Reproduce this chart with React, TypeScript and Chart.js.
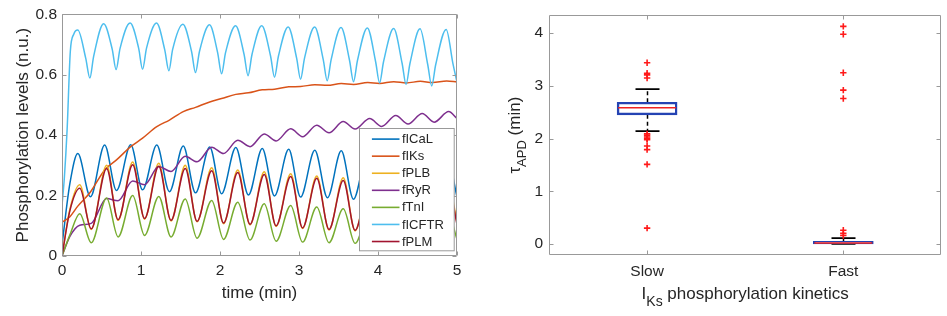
import React, { useEffect, useRef } from 'react';
import { Chart, registerables } from 'chart.js';

Chart.register(...registerables);

const FONT = "'Liberation Sans', Arial, Helvetica, sans-serif";
const TEXT = '#262626';
const FRAME = '#999999';

// ---------- Left panel: phosphorylation time courses ----------
const TIME_A = [0, 0.1, 0.2, 0.36, 0.54, 0.69, 0.87, 1.02, 1.2, 1.36, 1.535, 1.69, 1.87, 2.02, 2.2, 2.36, 2.535, 2.69, 2.87, 3.02, 3.2, 3.36, 3.535, 3.69, 3.87, 4.02, 4.2, 4.36, 4.535, 4.69, 4.87, 5.0];
const TIME_B = [0, 0.1, 0.225, 0.37, 0.565, 0.71, 0.895, 1.045, 1.225, 1.38, 1.56, 1.71, 1.895, 2.045, 2.225, 2.38, 2.56, 2.71, 2.895, 3.045, 3.225, 3.38, 3.56, 3.71, 3.895, 4.045, 4.225, 4.38, 4.56, 4.71, 4.895, 5.0];
const TIME_CFTR = [0, 0.03, 0.065, 0.105, 0.15, 0.2,
  0.30, 0.353, 0.40, 0.527,
  0.635, 0.685, 0.735, 0.862,
  0.97, 1.02, 1.07, 1.197,
  1.30, 1.353, 1.40, 1.53,
  1.64, 1.69, 1.74, 1.867,
  1.97, 2.02, 2.07, 2.197,
  2.305, 2.355, 2.405, 2.528,
  2.64, 2.69, 2.74, 2.863,
  2.97, 3.02, 3.07, 3.198,
  3.307, 3.357, 3.407, 3.532,
  3.64, 3.69, 3.74, 3.865,
  3.97, 4.02, 4.07, 4.198,
  4.305, 4.355, 4.405, 4.532,
  4.63, 4.68, 4.73, 4.863,
  4.95, 5.0];

const F_ICAL = [0.036, 0.24, 0.339, 0.196, 0.367, 0.217, 0.368, 0.219, 0.367, 0.213, 0.364, 0.209, 0.361, 0.206, 0.359, 0.202, 0.356, 0.199, 0.353, 0.195, 0.35, 0.193, 0.348, 0.188, 0.345, 0.186, 0.343, 0.183, 0.34, 0.18, 0.338, 0.195];
const F_IKS = [0.112, 0.13, 0.165, 0.212, 0.285, 0.318, 0.362, 0.39, 0.428, 0.45, 0.478, 0.492, 0.51, 0.521, 0.535, 0.54, 0.55, 0.552, 0.56, 0.561, 0.567, 0.565, 0.571, 0.568, 0.574, 0.571, 0.577, 0.573, 0.578, 0.574, 0.579, 0.576];
const F_PLB = [0, 0.155, 0.236, 0.088, 0.3, 0.118, 0.311, 0.122, 0.307, 0.116, 0.3, 0.113, 0.292, 0.107, 0.285, 0.103, 0.279, 0.098, 0.272, 0.091, 0.265, 0.086, 0.259, 0.083, 0.253, 0.08, 0.247, 0.077, 0.241, 0.074, 0.235, 0.112];
const F_RYR = [0, 0.065, 0.102, 0.108, 0.19, 0.183, 0.248, 0.236, 0.296, 0.28, 0.33, 0.312, 0.36, 0.339, 0.383, 0.362, 0.404, 0.381, 0.421, 0.395, 0.433, 0.408, 0.445, 0.42, 0.455, 0.429, 0.465, 0.437, 0.472, 0.443, 0.478, 0.455];
const F_TNI = [0, 0.07, 0.14, 0.044, 0.192, 0.063, 0.2, 0.068, 0.197, 0.063, 0.189, 0.059, 0.184, 0.055, 0.178, 0.053, 0.173, 0.049, 0.167, 0.046, 0.162, 0.044, 0.156, 0.042, 0.151, 0.04, 0.146, 0.038, 0.141, 0.036, 0.136, 0.055];
const F_ICFTR = [0.167, 0.26, 0.42, 0.676, 0.735, 0.748,
  0.655, 0.589, 0.66, 0.769,
  0.685, 0.617, 0.687, 0.771,
  0.688, 0.618, 0.688, 0.771,
  0.683, 0.613, 0.683, 0.767,
  0.677, 0.607, 0.677, 0.765,
  0.673, 0.603, 0.673, 0.762,
  0.667, 0.597, 0.667, 0.762,
  0.662, 0.592, 0.662, 0.758,
  0.655, 0.585, 0.655, 0.758,
  0.65, 0.58, 0.65, 0.756,
  0.647, 0.577, 0.647, 0.755,
  0.643, 0.573, 0.643, 0.753,
  0.638, 0.568, 0.638, 0.752,
  0.633, 0.563, 0.633, 0.75,
  0.635, 0.575];
const F_PLM = [0, 0.15, 0.224, 0.09, 0.29, 0.12, 0.302, 0.124, 0.297, 0.118, 0.29, 0.115, 0.282, 0.109, 0.276, 0.105, 0.27, 0.1, 0.263, 0.093, 0.257, 0.088, 0.25, 0.085, 0.244, 0.082, 0.238, 0.079, 0.232, 0.076, 0.226, 0.105];

const SERIES_LABELS = ['fICaL', 'fIKs', 'fPLB', 'fRyR', 'fTnI', 'fICFTR', 'fPLM'];
const SERIES_COLORS = ['#0072BD', '#D95319', '#EDB120', '#7E2F8E', '#77AC30', '#4DBEEE', '#A2142F'];
const SERIES_TIMES = [TIME_A, TIME_A, TIME_B, TIME_B, TIME_B, TIME_CFTR, TIME_B];
const SERIES_VALUES = [F_ICAL, F_IKS, F_PLB, F_RYR, F_TNI, F_ICFTR, F_PLM];

const LEFT_X_TITLE = 'time (min)';
const LEFT_Y_TITLE = 'Phosphorylation levels (n.u.)';

// ---------- Right panel: box plot ----------
const GROUPS = ['Slow', 'Fast'];
const Q1 = [2.45, 0.0];
const Q3 = [2.69, 0.05];
const MEDIAN = [2.586, 0.02];
const WHISKER_LOW = [2.14, 0.0];
const WHISKER_HIGH = [2.94, 0.11];
const OUTLIERS_SLOW = [3.44, 3.24, 3.21, 3.15, 2.09, 2.06, 2.03, 2.0, 1.98, 1.86, 1.79, 1.51, 0.30];
const OUTLIERS_FAST = [4.13, 3.98, 3.25, 2.92, 2.76, 0.26, 0.2, 0.16];

function drawFrame(chart: any) {
  const { ctx, chartArea: a, scales } = chart;
  const x = scales.x, y = scales.y;
  const L = Math.round(a.left) + 0.5, R = Math.round(a.right) - 0.5;
  const T = Math.round(a.top) + 0.5, B = Math.round(a.bottom) - 0.5;
  const tl = 4;
  ctx.save();
  ctx.strokeStyle = FRAME;
  ctx.lineWidth = 1;
  ctx.beginPath();
  ctx.rect(L, T, R - L, B - T);
  x.ticks.forEach((_: any, i: number) => {
    const px = Math.round(x.getPixelForTick(i)) + 0.5;
    ctx.moveTo(px, B); ctx.lineTo(px, B - tl);
    ctx.moveTo(px, T); ctx.lineTo(px, T + tl);
  });
  y.ticks.forEach((_: any, i: number) => {
    const py = Math.round(y.getPixelForTick(i)) + 0.5;
    ctx.moveTo(L, py); ctx.lineTo(L + tl, py);
    ctx.moveTo(R, py); ctx.lineTo(R - tl, py);
  });
  ctx.stroke();
  ctx.restore();
}

type Part = { text: string; size: number; dy: number };
function drawRich(ctx: CanvasRenderingContext2D, parts: Part[], cx: number, baseline: number) {
  let total = 0;
  parts.forEach(p => { ctx.font = `${p.size}px ${FONT}`; total += ctx.measureText(p.text).width; });
  let x = cx - total / 2;
  ctx.textAlign = 'left';
  ctx.textBaseline = 'alphabetic';
  parts.forEach(p => {
    ctx.font = `${p.size}px ${FONT}`;
    ctx.fillText(p.text, x, baseline + p.dy);
    x += ctx.measureText(p.text).width;
  });
}

const leftPlugin = {
  id: 'leftDecor',
  afterDatasetsDraw(chart: any) {
    drawFrame(chart);
    const { ctx, chartArea: a } = chart;
    // legend box (drawn over the lines, like MATLAB)
    const w = 94.7, h = 122.3;
    const lx = Math.round(a.right - 98) + 0.5, ly = Math.round(a.bottom - 128.3) + 0.5;
    ctx.save();
    ctx.fillStyle = '#ffffff';
    ctx.fillRect(lx, ly, w, h);
    ctx.strokeStyle = FRAME;
    ctx.lineWidth = 1;
    ctx.strokeRect(lx, ly, w, h);
    ctx.font = `13px ${FONT}`;
    ctx.textBaseline = 'middle';
    ctx.textAlign = 'left';
    SERIES_LABELS.forEach((label, i) => {
      const cy = ly + 10.6 + i * 17.07;
      ctx.strokeStyle = SERIES_COLORS[i];
      ctx.lineWidth = 1.6;
      ctx.beginPath();
      ctx.moveTo(lx + 12.4, cy);
      ctx.lineTo(lx + 40, cy);
      ctx.stroke();
      ctx.fillStyle = TEXT;
      ctx.fillText(label, lx + 42.4, cy + 0.5);
    });
    ctx.restore();
  },
  afterDraw(chart: any) {
    const { ctx, chartArea: a } = chart;
    ctx.save();
    ctx.fillStyle = TEXT;
    ctx.font = `17px ${FONT}`;
    ctx.textAlign = 'center';
    ctx.textBaseline = 'alphabetic';
    ctx.fillText(LEFT_X_TITLE, (a.left + a.right) / 2, 298);
    ctx.translate(28, (a.top + a.bottom) / 2);
    ctx.rotate(-Math.PI / 2);
    ctx.fillText(LEFT_Y_TITLE, 0, 0);
    ctx.restore();
  },
};

const rightPlugin = {
  id: 'rightDecor',
  beforeDatasetsDraw(chart: any) {
    const { ctx, scales } = chart;
    const x = scales.x, y = scales.y;
    ctx.save();
    ctx.strokeStyle = '#000000';
    ctx.lineWidth = 1.5;
    GROUPS.forEach((_, i) => {
      const cx = Math.round(x.getPixelForTick(i)) + 0.5;
      ctx.setLineDash([4, 3]);
      ctx.beginPath();
      ctx.moveTo(cx, y.getPixelForValue(Q3[i]));
      ctx.lineTo(cx, y.getPixelForValue(WHISKER_HIGH[i]));
      ctx.moveTo(cx, y.getPixelForValue(Q1[i]));
      ctx.lineTo(cx, y.getPixelForValue(WHISKER_LOW[i]));
      ctx.stroke();
      ctx.setLineDash([]);
      ctx.lineWidth = 1.8;
      ctx.beginPath();
      const hi = y.getPixelForValue(WHISKER_HIGH[i]);
      const lo = y.getPixelForValue(WHISKER_LOW[i]);
      ctx.moveTo(cx - 12, hi); ctx.lineTo(cx + 12, hi);
      ctx.moveTo(cx - 12, lo); ctx.lineTo(cx + 12, lo);
      ctx.stroke();
      ctx.lineWidth = 1.5;
    });
    ctx.restore();
  },
  afterDatasetsDraw(chart: any) {
    const { ctx, scales } = chart;
    const x = scales.x, y = scales.y;
    ctx.save();
    ctx.strokeStyle = '#ee2222';
    ctx.lineWidth = 1.5;
    GROUPS.forEach((_, i) => {
      const cx = x.getPixelForTick(i);
      const py = y.getPixelForValue(MEDIAN[i]);
      ctx.beginPath();
      ctx.moveTo(cx - 29, py);
      ctx.lineTo(cx + 29, py);
      ctx.stroke();
    });
    ctx.restore();
    drawFrame(chart);
  },
  afterDraw(chart: any) {
    const { ctx, chartArea: a } = chart;
    ctx.save();
    ctx.fillStyle = TEXT;
    drawRich(ctx, [
      { text: 'I', size: 17, dy: 0 },
      { text: 'Ks', size: 14, dy: 7 },
      { text: ' phosphorylation kinetics', size: 17, dy: 0 },
    ], (a.left + a.right) / 2, 298.5);
    ctx.translate(40, (a.top + a.bottom) / 2);
    ctx.rotate(-Math.PI / 2);
    drawRich(ctx, [
      { text: 'τ', size: 17, dy: 0 },
      { text: 'APD', size: 13, dy: 6 },
      { text: ' (min)', size: 17, dy: 0 },
    ], 0, 0);
    ctx.restore();
  },
};

function leftConfig(): any {
  return {
    type: 'line',
    data: {
      datasets: SERIES_LABELS.map((label, i) => ({
        label,
        data: SERIES_TIMES[i].map((t, k) => ({ x: t, y: SERIES_VALUES[i][k] })),
        borderColor: SERIES_COLORS[i],
        backgroundColor: SERIES_COLORS[i],
        borderWidth: 1.5,
        pointRadius: 0,
        fill: false,
        cubicInterpolationMode: 'monotone',
        order: SERIES_LABELS.length - i,
      })),
    },
    options: {
      responsive: false,
      animation: false,
      events: [],
      layout: { padding: { top: 12, right: 23, left: 0, bottom: 0 } },
      plugins: { legend: { display: false }, tooltip: { enabled: false }, title: { display: false } },
      scales: {
        x: {
          type: 'linear', min: 0, max: 5,
          grid: { display: false, drawTicks: false },
          border: { display: false },
          ticks: { stepSize: 1, padding: 5, maxRotation: 0, color: TEXT, font: { family: FONT, size: 15.5 } },
          afterFit: (s: any) => { s.height = 60; },
        },
        y: {
          type: 'linear', min: 0, max: 0.8,
          grid: { display: false, drawTicks: false },
          border: { display: false },
          ticks: { stepSize: 0.2, padding: 5, color: TEXT, font: { family: FONT, size: 15.5 } },
          afterFit: (s: any) => { s.width = 62; },
        },
      },
    },
    plugins: [leftPlugin],
  };
}

function rightConfig(): any {
  return {
    type: 'bar',
    data: {
      labels: GROUPS,
      datasets: [
        {
          type: 'bar',
          label: 'box',
          data: GROUPS.map((_, i) => [Q1[i], Q3[i]]),
          backgroundColor: 'rgba(0,0,0,0)',
          borderColor: '#2443b3',
          borderWidth: 1.8,
          borderSkipped: false,
          barThickness: 60,
          order: 3,
        },
        {
          type: 'line',
          label: 'Slow outliers',
          data: OUTLIERS_SLOW.map(v => ({ x: GROUPS[0], y: v })),
          showLine: false,
          pointStyle: 'cross',
          pointRadius: 3.2,
          pointBorderWidth: 1.6,
          pointBorderColor: '#ff1a1a',
          borderColor: '#ff1a1a',
          order: 1,
        },
        {
          type: 'line',
          label: 'Fast outliers',
          data: OUTLIERS_FAST.map(v => ({ x: GROUPS[1], y: v })),
          showLine: false,
          pointStyle: 'cross',
          pointRadius: 3.2,
          pointBorderWidth: 1.6,
          pointBorderColor: '#ff1a1a',
          borderColor: '#ff1a1a',
          order: 2,
        },
      ],
    },
    options: {
      responsive: false,
      animation: false,
      events: [],
      layout: { padding: { top: 11, right: 1, left: 0, bottom: 0 } },
      plugins: { legend: { display: false }, tooltip: { enabled: false }, title: { display: false } },
      scales: {
        x: {
          type: 'category', offset: true,
          grid: { display: false, drawTicks: false, offset: true },
          border: { display: false },
          ticks: { padding: 7, maxRotation: 0, color: TEXT, font: { family: FONT, size: 15.5 } },
          afterFit: (s: any) => { s.height = 61; },
        },
        y: {
          type: 'linear', min: -0.21, max: 4.34,
          grid: { display: false, drawTicks: false },
          border: { display: false },
          ticks: { stepSize: 1, includeBounds: false, padding: 6, color: TEXT, font: { family: FONT, size: 15.5 } },
          afterFit: (s: any) => { s.width = 69; },
        },
      },
    },
    plugins: [rightPlugin],
  };
}

export default function App() {
  const leftRef = useRef<HTMLCanvasElement>(null);
  const rightRef = useRef<HTMLCanvasElement>(null);
  useEffect(() => {
    Chart.defaults.font.family = FONT;
    const left = new Chart(leftRef.current as HTMLCanvasElement, leftConfig());
    const right = new Chart(rightRef.current as HTMLCanvasElement, rightConfig());
    return () => { left.destroy(); right.destroy(); };
  }, []);
  return (
    <div style={{ position: 'absolute', left: 0, top: 0, width: 947, height: 316, background: '#ffffff' }}>
      <canvas ref={leftRef} width={480} height={316} style={{ position: 'absolute', left: 0, top: 0, width: 480, height: 316 }} />
      <canvas ref={rightRef} width={467} height={316} style={{ position: 'absolute', left: 480, top: 0, width: 467, height: 316 }} />
    </div>
  );
}
